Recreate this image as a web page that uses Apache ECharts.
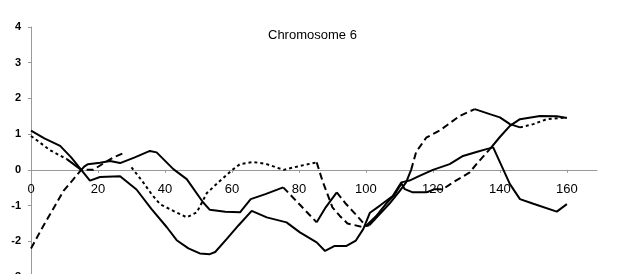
<!DOCTYPE html>
<html>
<head>
<meta charset="utf-8">
<title>Chromosome 6</title>
<script src="https://cdn.jsdelivr.net/npm/echarts@6/dist/echarts.min.js"></script>
<style>
html,body{margin:0;padding:0;background:#fff;}
#main{width:621px;height:274px;}
</style>
</head>
<body>
<div id="main"></div>
<script>
// 轴范围
var xMin = 0, xMax = 169, xStep = 20;
var yMin = -3, yMax = 4, yStep = 1;

// 三条曲线 [位置, 值]
var lineA = [[0,1.1],[4,0.88],[8.7,0.67],[12,0.35],[15,0],[17.6,-0.3],[20.6,-0.2],[26.6,-0.18],[31.5,-0.55],[36,-1.1],
	[40.5,-1.6],[43.5,-1.97],[47,-2.2],[50.4,-2.34],[53.4,-2.36],[55,-2.3],[58.4,-1.94],[62,-1.55],[65.9,-1.15],
	[70.4,-1.33],[76.3,-1.47],[80.3,-1.75],[85.3,-2.03],[87.8,-2.27],[90.7,-2.13],[94.2,-2.13],[97,-1.98],[99.2,-1.66],
	[101.2,-1.2],[104.2,-1.0],[108,-0.73],[110.6,-0.35],[113,-0.3],[116,-0.17],[120,0],[125,0.16],[129,0.39],
	[133,0.5],[136,0.58],[138,0.63],[143,-0.4],[146,-0.82],[150,-0.95],[157,-1.17],[160,-0.96]];

var lineB = [[0,0.95],[5.7,0.55],[10.7,0.3],[15,0],[16,0.1],[17,0.16],[20.6,0.2],[23.6,0.25],[26.6,0.19],[31,0.35],
	[35.5,0.53],[37.5,0.49],[42.5,0.02],[46.5,-0.26],[51.3,-0.9],[53.4,-1.12],[58,-1.17],[62.4,-1.19],[65.6,-0.82],
	[70,-0.68],[75.3,-0.49],[80,-0.95],[85.3,-1.47],[88,-1.05],[91.3,-0.63],[94,-0.95],[97,-1.25],[100,-1.57],
	[103,-1.3],[106,-0.95],[108.5,-0.7],[110.6,-0.38],[111.6,-0.54],[114,-0.63],[118,-0.63],[120.6,-0.54],[123,-0.54],
	[126,-0.35],[131,-0.07],[133,0.16],[137,0.58],[140,0.92],[143,1.23],[146,1.42],[152,1.51],[157,1.5],[160,1.45]];

var lineC = [[0,-2.2],[3.5,-1.6],[6.7,-1.08],[9.7,-0.59],[12.5,-0.28],[15,0],[18.6,0.0],[21.6,0.18],[24.6,0.35],[27.6,0.47],
	[30,0.07],[33.5,-0.35],[36,-0.68],[38.5,-0.96],[42.5,-1.15],[46.5,-1.33],[49.5,-1.19],[52.5,-0.65],[56.4,-0.31],
	[60.4,0.02],[62.4,0.16],[66.4,0.22],[70.4,0.16],[75.4,0.0],[80.3,0.11],[85.3,0.21],[87,-0.3],[90,-1.05],[92.2,-1.29],
	[94.5,-1.5],[99,-1.6],[101,-1.55],[104,-1.25],[107,-0.95],[110,-0.6],[112,-0.35],[113.5,0],[115,0.5],[118,0.9],
	[122,1.1],[128,1.51],[132.5,1.7],[137,1.56],[140,1.47],[143,1.28],[146,1.19],[150,1.28],[154,1.42],[160,1.47]];

// 分段线型 [起, 止, 线型]
var styleA = [[0,160,'solid']];
var styleB = [[0,10.7,'dotted'],[10.7,75.3,'solid'],[75.3,85.3,'dashed'],[85.3,91.3,'solid'],[91.3,100,'dashed'],
	[100,120.6,'solid'],[120.6,137,'dashed'],[137,160,'solid']];
var styleC = [[0,27.6,'dashed'],[30,85.3,'dotted'],[85.3,101,'dashed'],[101,113.5,'solid'],[113.5,132.5,'dashed'],
	[132.5,146,'solid'],[146,160,'dotted']];

var dashMap = {solid:'solid', dotted:[3,3], dashed:[7,4]};

var gridTop = 27, gridH = 250;

function cut(points, from, to){
	var arr = [];
	for(var i=0;i<points.length;i++){
		if(points[i][0] >= from && points[i][0] <= to) arr.push(points[i]);
	}
	return arr;
}

function buildSeries(name, points, styles){
	var list = [];
	for(var i=0;i<styles.length;i++){
		list.push({
			name: name,
			type: 'line',
			data: cut(points, styles[i][0], styles[i][1]),
			symbol: 'none',
			silent: true,
			lineStyle: {color:'#000', width:2, type: dashMap[styles[i][2]]}
		});
	}
	return list;
}

var series = [].concat(
	buildSeries('A', lineA, styleA),
	buildSeries('B', lineB, styleB),
	buildSeries('C', lineC, styleC)
);

// x 轴放到 y=0 的位置
var zeroOffset = -gridH * (0 - yMin) / (yMax - yMin);

var myChart = echarts.init(document.getElementById('main'));
var option = {
	animation: false,
	backgroundColor: '#fff',
	title: {
		text: 'Chromosome 6',
		left: 263,
		top: 24,
		textStyle: {fontFamily:'Liberation Sans', fontSize:13, fontWeight:'normal', color:'#000'}
	},
	grid: {left:31, top:gridTop, width:566, height:gridH, containLabel:false, outerBoundsMode:'none'},
	xAxis: {
		type: 'value',
		min: xMin, max: xMax, interval: xStep,
		offset: zeroOffset,
		axisLine: {onZero:false, lineStyle:{color:'#999', width:1}},
		axisTick: {show:true, length:3, lineStyle:{color:'#999'}},
		axisLabel: {showMaxLabel:false, margin:13, color:'#000', fontFamily:'Liberation Sans', fontSize:13},
		splitLine: {show:false}
	},
	yAxis: {
		type: 'value',
		min: yMin, max: yMax, interval: yStep,
		axisLine: {show:true, onZero:false, lineStyle:{color:'#999', width:1}},
		axisTick: {show:true, length:3, lineStyle:{color:'#999'}},
		axisLabel: {margin:10, color:'#000', fontFamily:'Liberation Sans', fontSize:11, fontWeight:'bold'},
		splitLine: {show:false}
	},
	series: series
};
myChart.setOption(option);
</script>
</body>
</html>
